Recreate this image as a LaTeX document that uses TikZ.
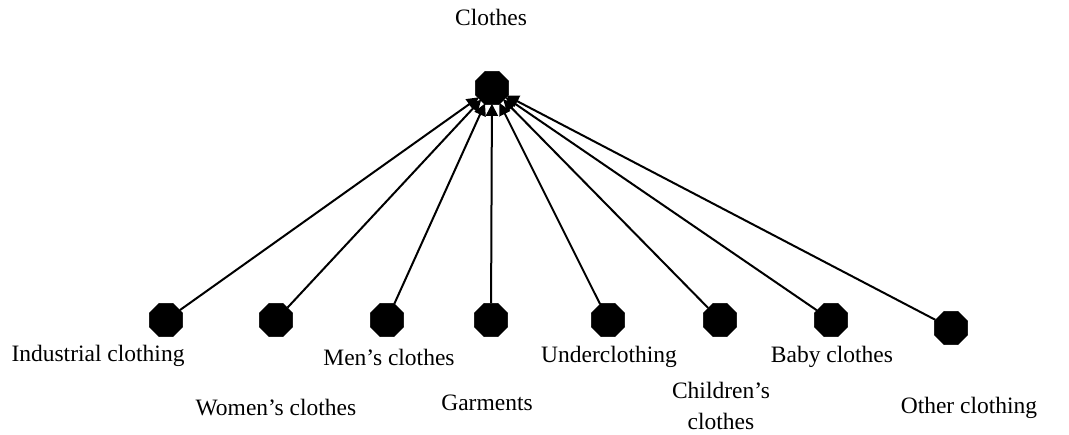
\documentclass[tikz,border=0pt]{standalone}
\usepackage{fontspec}
\setmainfont{Liberation Serif}
\usetikzlibrary{shapes.geometric,arrows.meta}
\begin{document}
\begin{tikzpicture}[x=1pt,y=-1pt,
  oct/.style={regular polygon,regular polygon sides=8,fill=black,draw=black,
    minimum size=36pt,inner sep=0pt},
  lbl/.style={font=\fontsize{23.5}{31}\selectfont,inner sep=0pt,align=center},
  link/.style={line width=2pt,-{Triangle[length=12pt,width=12pt]},shorten >=-1pt}]
\useasboundingbox (0,0) rectangle (1069,435);
% root
\node[oct] (root) at (492,88) {};
\node[lbl] (lroot) at (491,17) {Clothes};
% leaves
\node[oct] (ind) at (166,320) {};
\node[oct] (wom) at (276,320) {};
\node[oct] (men) at (387,320) {};
\node[oct] (gar) at (491,320) {};
\node[oct] (und) at (608,320) {};
\node[oct] (chi) at (720,320) {};
\node[oct] (bab) at (831,320) {};
\node[oct] (oth) at (951,328) {};
% labels
\node[lbl] (lind) at (98,356) {Industrial clothing};
\node[lbl] (lwom) at (276,408) {Women’s clothes};
\node[lbl] (lmen) at (389,357) {Men’s clothes};
\node[lbl] (lgar) at (487,403) {Garments};
\node[lbl] (lund) at (609,357) {Underclothing};
\node[lbl] (lchi) at (721,406) {Children’s\\clothes};
\node[lbl] (lbab) at (832,357) {Baby clothes};
\node[lbl] (loth) at (969,408) {Other clothing};
% edges
\foreach \n in {ind,wom,men,gar,und,chi,bab,oth}
  \draw[link] (\n) -- (root);
\end{tikzpicture}
\end{document}
